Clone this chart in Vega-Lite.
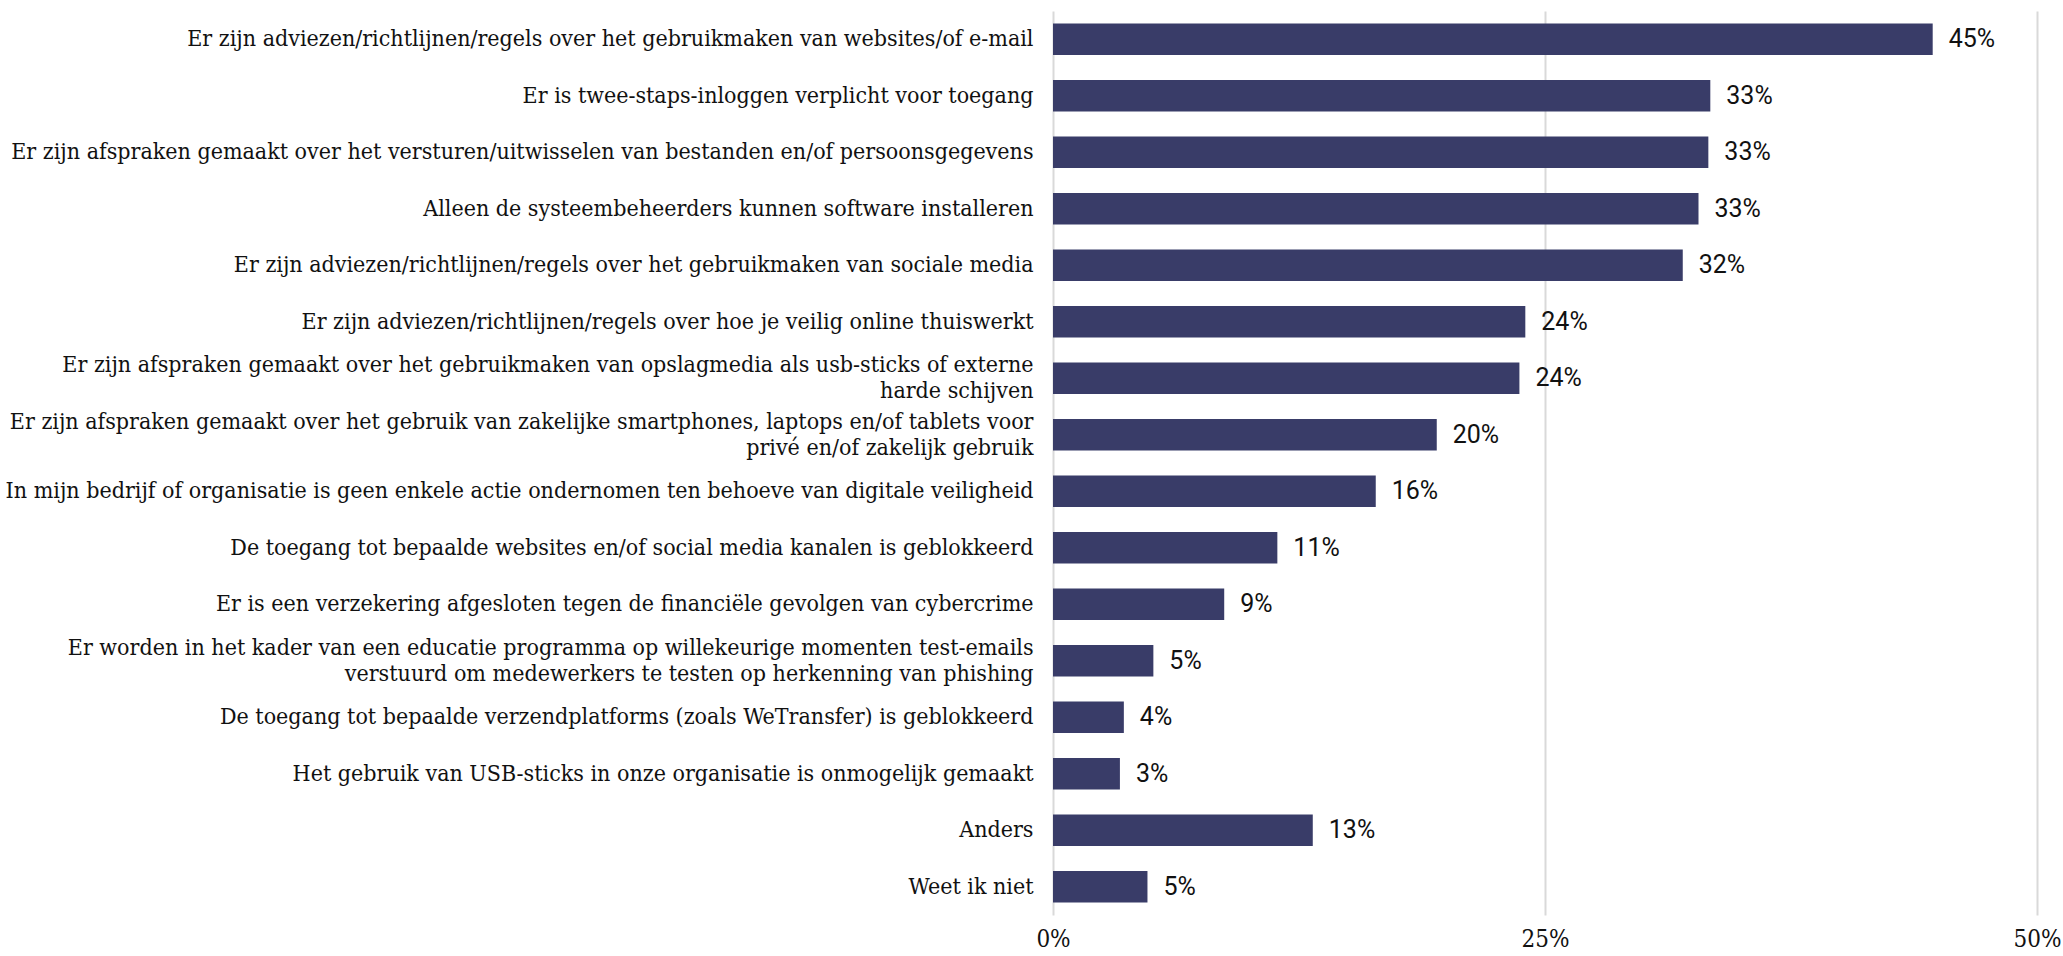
{
  "$schema": "https://vega.github.io/schema/vega-lite/v6.json",
  "autosize": {"type": "none"},
  "width": 984,
  "height": 904,
  "padding": {"left": 1053, "top": 11, "right": 26, "bottom": 41},
  "background": "white",
  "data": {"values": [
    {"item": "Er zijn adviezen/richtlijnen/regels over het gebruikmaken van websites/of e-mail", "value": 0.447},
    {"item": "Er is twee-staps-inloggen verplicht voor toegang", "value": 0.334},
    {"item": "Er zijn afspraken gemaakt over het versturen/uitwisselen van bestanden en/of persoonsgegevens", "value": 0.333},
    {"item": "Alleen de systeembeheerders kunnen software installeren", "value": 0.328},
    {"item": "Er zijn adviezen/richtlijnen/regels over het gebruikmaken van sociale media", "value": 0.32},
    {"item": "Er zijn adviezen/richtlijnen/regels over hoe je veilig online thuiswerkt", "value": 0.24},
    {"item": "Er zijn afspraken gemaakt over het gebruikmaken van opslagmedia als usb-sticks of externe|harde schijven", "value": 0.237},
    {"item": "Er zijn afspraken gemaakt over het gebruik van zakelijke smartphones, laptops en/of tablets voor|privé en/of zakelijk gebruik", "value": 0.195},
    {"item": "In mijn bedrijf of organisatie is geen enkele actie ondernomen ten behoeve van digitale veiligheid", "value": 0.164},
    {"item": "De toegang tot bepaalde websites en/of social media kanalen is geblokkeerd", "value": 0.114},
    {"item": "Er is een verzekering afgesloten tegen de financiële gevolgen van cybercrime", "value": 0.087},
    {"item": "Er worden in het kader van een educatie programma op willekeurige momenten test-emails|verstuurd om medewerkers te testen op herkenning van phishing", "value": 0.051},
    {"item": "De toegang tot bepaalde verzendplatforms (zoals WeTransfer) is geblokkeerd", "value": 0.036},
    {"item": "Het gebruik van USB-sticks in onze organisatie is onmogelijk gemaakt", "value": 0.034},
    {"item": "Anders", "value": 0.132},
    {"item": "Weet ik niet", "value": 0.048}
  ]},
  "encoding": {
    "y": {
      "field": "item", "type": "nominal", "sort": null,
      "scale": {"paddingInner": 0.44, "paddingOuter": 0.22},
      "axis": {
        "title": null, "domain": false, "ticks": false, "grid": false,
        "labelPadding": 20, "labelLimit": 1100,
        "labelFont": "DejaVu Serif Condensed", "labelFontSize": 23,
        "labelColor": "#111111", "labelLineHeight": 26,
        "labelOffset": {"expr": "indexof(datum.value, '|') >= 0 ? -13 : 0"},
        "labelExpr": "split(datum.value, '|')"
      }
    },
    "x": {
      "field": "value", "type": "quantitative",
      "scale": {"domain": [0, 0.5], "nice": false},
      "axis": {
        "title": null, "values": [0, 0.25, 0.5], "format": ".0%",
        "domain": false, "ticks": false,
        "grid": true, "gridColor": "#d9d9d9", "gridWidth": 2,
        "labelPadding": 12, "labelFont": "DejaVu Serif Condensed",
        "labelFontSize": 24, "labelColor": "#111111", "labelFlush": false
      }
    }
  },
  "layer": [
    {"mark": {"type": "bar", "color": "#393c68"}},
    {
      "mark": {"type": "text", "align": "left", "baseline": "middle", "dx": 16, "font": "Roboto", "fontSize": 25, "color": "#111111"},
      "encoding": {"text": {"field": "value", "format": ".0%"}}
    }
  ],
  "config": {"view": {"stroke": null}}
}
